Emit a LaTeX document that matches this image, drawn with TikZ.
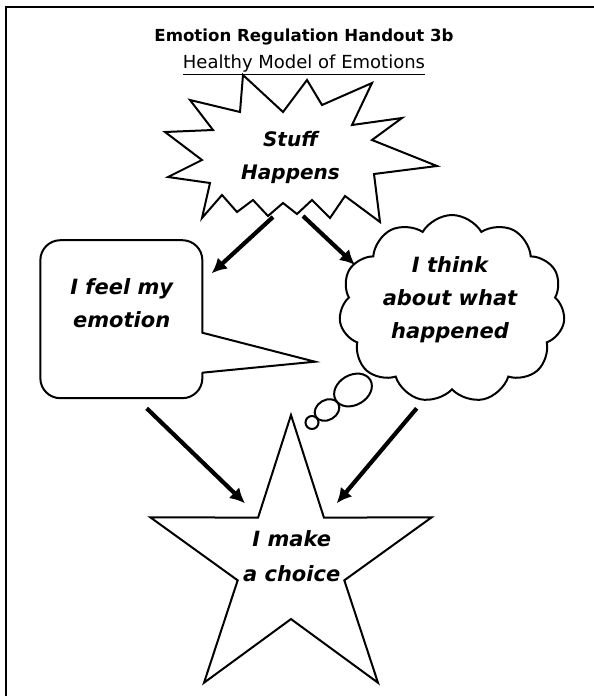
\documentclass[tikz,border=0pt]{standalone}
\usepackage{fontspec}
\setmainfont{DejaVu Sans}
\usepackage{tikz}
\usetikzlibrary{positioning,arrows.meta,shapes.symbols,shapes.geometric}

\begin{document}
\begin{tikzpicture}[
x=1pt, y=-1pt,
outline/.style={draw=black, line width=2pt, line join=miter, fill=white},
say/.style={align=center, font=\fontsize{21}{33}\selectfont\bfseries\itshape, inner sep=0pt},
arrow/.style={-{Latex[length=15pt,width=15pt]}, line width=4.2pt, black}
]
\useasboundingbox (0,0) rectangle (594,696);
% frame
\draw[line width=2pt] (6,696) -- (6,7) -- (594,7);

% heading
\node[font=\fontsize{16.6}{18}\selectfont\bfseries] (title) at (304,37) {Emotion Regulation Handout 3b};
\node[font=\fontsize{18}{20}\selectfont, below=3pt of title] (sub) {\underline{Healthy Model of Emotions}};

% stuff happens burst
\draw[outline] (243,75) -- (283,112) -- (307,80) -- (322,105) -- (372,83) -- (352,125)
  -- (402,118) -- (372,140) -- (437,166) -- (374,174) -- (380,222) -- (345,196)
  -- (330,218) -- (312,200) -- (297,214) -- (283,203) -- (268,216) -- (253,200)
  -- (237,212) -- (222,195) -- (202,218) -- (210,183) -- (168,177) -- (202,160)
  -- (165,132) -- (213,130) -- (190,100) -- (240,112) -- cycle;
\node[say, font=\fontsize{20}{33}\selectfont\bfseries\itshape] (stuff) at (290.5,157) {Stuff\\Happens};

% speech bubble
\node[outline, rounded corners=20pt, minimum width=162pt, minimum height=158pt] (feel) at (121.35,319.2) {};
\fill[white] (200,333) -- (315,361.7) -- (200,372.5) -- cycle;
\draw[line width=2pt] (202.2,332.7) -- (315,361.7) -- (202.2,372.7);
\node[say] (feeltext) at (121.7,303) {I feel my\\emotion};

% thought cloud
\node[outline, cloud, cloud puffs=11, cloud puff arc=120, aspect=1.2, minimum width=226pt, minimum height=188pt] (think) at (452,309) {};
\draw[outline] (353,390) ellipse [x radius=20, y radius=15, rotate=30];
\draw[outline] (327,410) ellipse [x radius=13, y radius=10, rotate=30];
\draw[outline] (312,422.5) circle [radius=6.5];
\node[say] (thinktext) at (450,300) {I think\\about what\\happened};

% choice star
\node[outline, star, star points=5, star point ratio=2.64, minimum size=296pt, inner sep=0pt] (choice) at (291,563) {};
\node[say, font=\fontsize{21}{35}\selectfont\bfseries\itshape] (choicetext) at (291.7,556) {I make\\a choice};

% arrows
\coordinate (outL) at (273,217);
\coordinate (outR) at (303,216);
\coordinate (feelIn) at (211.7,273.3);
\coordinate (thinkIn) at (355,265);
\coordinate (feelOut) at (146.7,408.3);
\coordinate (thinkOut) at (416.7,408.3);
\coordinate (choiceL) at (245,503.3);
\coordinate (choiceR) at (336.7,503.3);
\draw[arrow] (outL) -- (feelIn);
\draw[arrow] (outR) -- (thinkIn);
\draw[arrow] (feelOut) -- (choiceL);
\draw[arrow] (thinkOut) -- (choiceR);
\end{tikzpicture}
\end{document}
